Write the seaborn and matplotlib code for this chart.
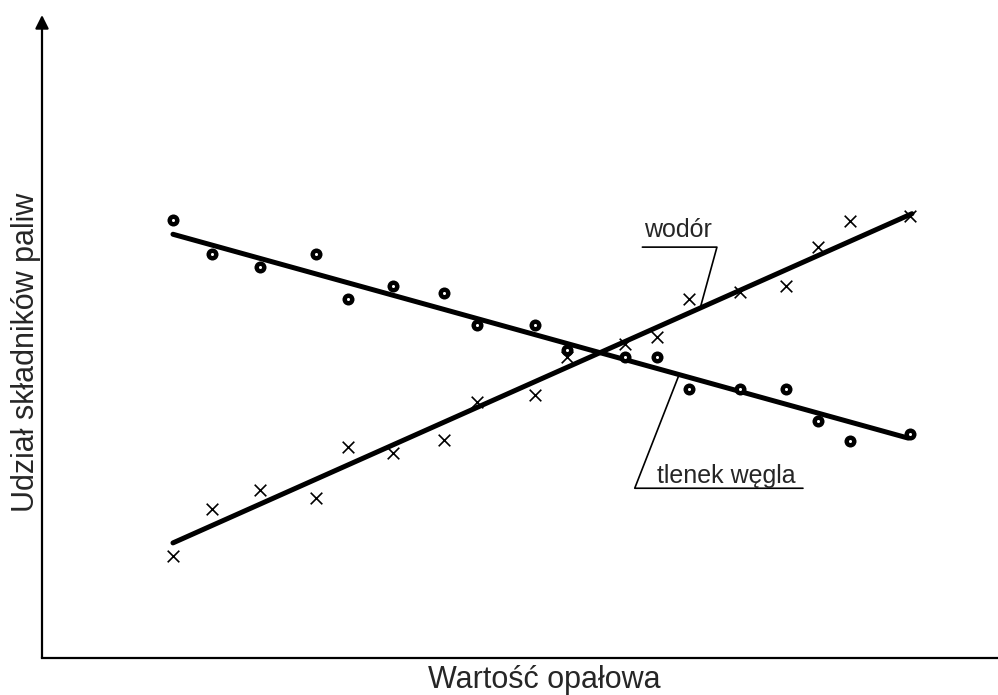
import numpy as np
import pandas as pd
import matplotlib
matplotlib.use("Agg")
import matplotlib.pyplot as plt
import seaborn as sns

# dane (jednostki umowne 0-100)
wartosc = [13.7, 17.8, 22.8, 28.7, 32.0, 36.7, 42.1, 45.5, 51.6,
           54.9, 61.0, 64.3, 67.7, 73.0, 77.8, 81.2, 84.5, 90.8]
tlenek = [68.1, 62.8, 60.8, 62.8, 55.8, 57.9, 56.8, 51.8, 51.8,
          47.9, 46.8, 46.8, 41.8, 41.8, 41.8, 36.9, 33.7, 34.8]
wodor = [15.9, 23.2, 26.1, 24.9, 32.8, 31.9, 33.9, 39.8, 40.9,
         46.8, 48.8, 49.9, 55.8, 56.9, 57.9, 63.9, 68.0, 68.7]

# proste trendu (poczatek, koniec)
wodor_lin_x = [13.7, 91.0]
wodor_lin_y = [17.9, 69.1]
tlenek_lin_x = [13.7, 90.6]
tlenek_lin_y = [65.9, 34.2]

xlabel = "Wartość opałowa"
ylabel = "Udział składników paliw"

sns.set_style("white")
plt.rcParams["font.family"] = ["Liberation Sans", "DejaVu Sans"]

df = pd.DataFrame({"x": wartosc, "co": tlenek, "h2": wodor})

fig = plt.figure(figsize=(9.98, 6.95), dpi=100)
ax = fig.add_axes([42 / 998, 37 / 695, 956 / 998, 643 / 695])

sns.lineplot(x=wodor_lin_x, y=wodor_lin_y, color="black", lw=3.6, ax=ax)
sns.lineplot(x=tlenek_lin_x, y=tlenek_lin_y, color="black", lw=3.6, ax=ax)

sns.scatterplot(data=df, x="x", y="h2", marker="x", s=70, color="black",
                linewidth=1.2, ax=ax, zorder=3)
# kolko z biala kropka w srodku
sns.scatterplot(data=df, x="x", y="co", marker="o", s=75, color="black",
                linewidth=0, ax=ax, zorder=3)
ax.plot(df["x"], df["co"], "o", ms=2.2, mfc="white", mec="white", mew=0,
        zorder=4)

ax.set_xlim(0, 100)
ax.set_ylim(0, 100)
ax.set_xticks([])
ax.set_yticks([])
ax.set_xlabel("")
ax.set_ylabel("")
for s in ["top", "right", "left"]:
    ax.spines[s].set_visible(False)
ax.spines["bottom"].set_linewidth(1.6)
ax.spines["bottom"].set_color("black")

# os y ze strzalka
ax.annotate("", xy=(0, 1), xytext=(0, 0), xycoords="axes fraction",
            arrowprops=dict(arrowstyle="-|>", lw=1.6, color="black",
                            mutation_scale=20, shrinkA=0, shrinkB=0))

# opisy linii
ax.plot([62.8, 70.6, 68.9], [63.9, 63.9, 54.7], color="black", lw=1.2)
ax.text(66.5, 65.5, "wodór", fontsize=18, ha="center", va="baseline")
ax.plot([79.6, 62.0, 66.6], [26.4, 26.4, 43.9], color="black", lw=1.2)
ax.text(71.6, 27.2, "tlenek węgla", fontsize=18, ha="center", va="baseline")

fig.text(544 / 998, 7 / 695, xlabel, fontsize=22, ha="center", va="baseline")
fig.text(26 / 998, 1 - 352 / 695, ylabel, fontsize=22, ha="center", va="center",
         rotation=90)

fig.savefig("out.png", dpi=100)
